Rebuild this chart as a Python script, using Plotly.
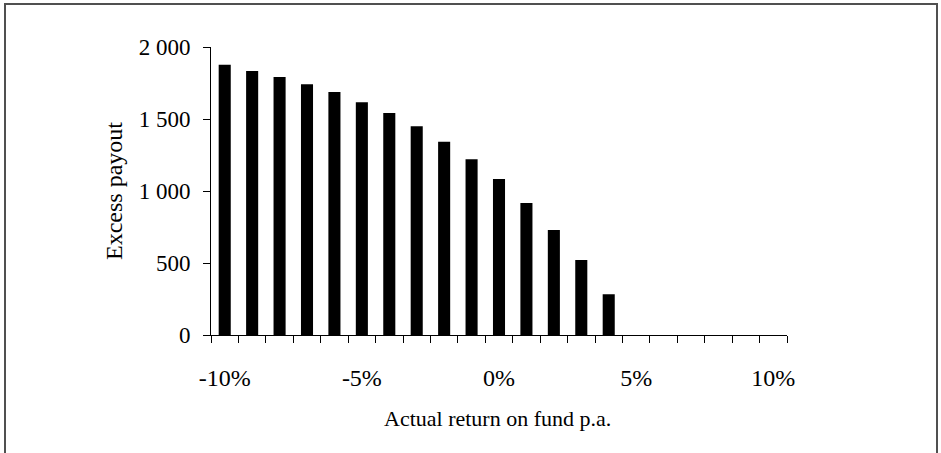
import plotly.graph_objects as go

returns = [-10, -9, -8, -7, -6, -5, -4, -3, -2, -1, 0, 1, 2, 3, 4, 5, 6, 7, 8, 9, 10]
payout = [1877, 1833, 1792, 1741, 1688, 1616, 1542, 1449, 1342, 1220, 1083, 917, 729, 521, 283, 0, 0, 0, 0, 0, 0]
x_tickvals = [-10, -5, 0, 5, 10]
x_ticktext = ["-10%", "-5%", "0%", "5%", "10%"]
y_tickvals = [0, 500, 1000, 1500, 2000]
y_ticktext = ["0", "500", "1 000", "1 500", "2 000"]

FONT = "Liberation Serif, Times New Roman, serif"

fig = go.Figure(go.Bar(x=returns, y=payout, width=0.44,
                       marker=dict(color="black", line=dict(width=0))))

W, H = 941, 453
L, R, T, B = 211, 787, 47, 335
pw, ph = R - L, B - T

def px(x):
    return (x - L) / pw

def py(y):
    return (B - y) / ph

fig.update_layout(
    width=W, height=H,
    margin=dict(l=L, r=W - R, t=T, b=H - B, pad=0),
    paper_bgcolor="white", plot_bgcolor="white",
    font=dict(family=FONT, size=23, color="black"),
    showlegend=False,
    xaxis=dict(range=[-10.5, 10.5], showgrid=False, zeroline=False,
               showline=True, linecolor="black", linewidth=1,
               tickmode="array", tickvals=x_tickvals, ticktext=x_ticktext,
               ticks="", ticklabelstandoff=21, tickfont=dict(size=24),
               minor=dict(ticks="outside", tick0=-10.5, dtick=1, ticklen=7,
                          tickcolor="black", tickwidth=1, showgrid=False)),
    yaxis=dict(range=[0, 2000], showgrid=False, zeroline=False,
               showline=True, linecolor="black", linewidth=1,
               tickmode="array", tickvals=y_tickvals, ticktext=y_ticktext,
               ticks="outside", ticklen=7, tickcolor="black",
               ticklabelstandoff=8, tickfont=dict(size=23)),
    annotations=[
        dict(text="Excess payout", xref="paper", yref="paper",
             x=px(114), y=0.5, textangle=-90, showarrow=False,
             xanchor="center", yanchor="middle", font=dict(size=24)),
        dict(text="Actual return on fund p.a.", xref="paper", yref="paper",
             x=px(497), y=py(418), showarrow=False,
             xanchor="center", yanchor="middle", font=dict(size=22)),
    ],
    shapes=[dict(type="rect", xref="paper", yref="paper",
                 x0=px(5), x1=px(937), y0=py(480), y1=py(4),
                 line=dict(color="#505050", width=2), fillcolor="rgba(0,0,0,0)")],
)

fig.write_html("out.html", config={"displayModeBar": False},
               post_script="document.body.style.margin='0';document.body.style.overflow='hidden';")
